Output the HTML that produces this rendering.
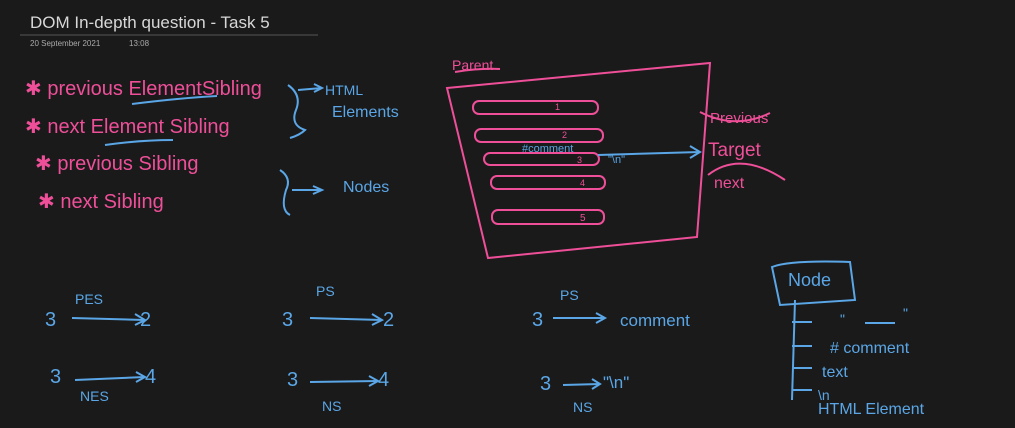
<!DOCTYPE html>
<html><head><meta charset="utf-8"><style>
html,body{margin:0;padding:0;background:#1a1a1a;}
svg{display:block}
text{font-family:"Liberation Sans",sans-serif;}
.p{fill:#ee4f98}
.b{fill:#5aa6e6}
</style></head><body>
<svg width="1015" height="428" viewBox="0 0 1015 428" xmlns="http://www.w3.org/2000/svg">
<rect width="1015" height="428" fill="#1a1a1a"/>
<text x="30" y="28" fill="#d8d8d8" font-size="17">DOM In-depth question - Task 5</text>
<line x1="20" y1="35" x2="318" y2="35" stroke="#555" stroke-width="1"/>
<text x="30" y="46" fill="#aaa" font-size="8">20 September 2021</text>
<text x="129" y="46" fill="#aaa" font-size="8">13:08</text>

<g stroke="#ee4f98" fill="none" stroke-width="2">
<path d="M455 72 Q480 68 500 69"/>
<path d="M447 88 L710 63 L697 237 L488 258 Z"/>
<rect x="473" y="101" width="125" height="13" rx="6"/>
<rect x="475" y="129" width="128" height="13" rx="6"/>
<rect x="484" y="153" width="115" height="12" rx="6"/>
<rect x="491" y="176" width="114" height="13" rx="6"/>
<rect x="492" y="210" width="112" height="14" rx="6"/>
<path d="M700 112 Q735 130 770 113"/>
<path d="M708 175 Q740 150 785 180"/>
</g>
<text x="555" y="110" font-size="9" class="p">1</text>
<text x="562" y="138" font-size="9" class="p">2</text>
<text x="577" y="163" font-size="9" class="p">3</text>
<text x="580" y="186" font-size="9" class="p">4</text>
<text x="580" y="221" font-size="10" class="p">5</text>
<text x="452" y="70" class="p" font-size="14">Parent</text>
<text x="710" y="123" class="p" font-size="15">Previous</text>
<text x="708" y="156" class="p" font-size="19">Target</text>
<text x="714" y="188" class="p" font-size="16">next</text>
<text x="522" y="152" class="b" font-size="11">#comment</text>
<text x="608" y="163" class="b" font-size="11">"\n"</text>
<g stroke="#5aa6e6" fill="none" stroke-width="2">
<line x1="598" y1="155" x2="700" y2="152"/><path d="M690 146 L700 152 L690 158"/>
</g>

<text x="25" y="95" class="p" font-size="20">✱ previous ElementSibling</text>
<text x="25" y="133" class="p" font-size="20">✱ next Element Sibling</text>
<text x="35" y="170" class="p" font-size="20">✱ previous Sibling</text>
<text x="38" y="208" class="p" font-size="20">✱ next Sibling</text>
<g stroke="#5aa6e6" fill="none" stroke-width="2">
<path d="M132 104 Q180 98 217 96"/><path d="M105 145 Q140 140 173 140"/>
<path d="M288 85 Q302 95 296 110 Q290 125 305 130 Q300 135 290 138"/>
<path d="M298 90 L322 88"/><path d="M314 84 L322 88 L314 92"/>
<path d="M280 170 Q292 178 286 190 Q280 210 290 215"/>
<path d="M292 190 L320 190"/><path d="M313 186 L322 190 L313 194"/>
</g>
<text x="325" y="95" class="b" font-size="14">HTML</text>
<text x="332" y="117" class="b" font-size="16">Elements</text>
<text x="343" y="192" class="b" font-size="16">Nodes</text>

<g class="b" font-size="20">
<text x="45" y="326">3</text><text x="140" y="326">2</text><text x="75" y="304" font-size="14">PES</text>
<text x="50" y="383">3</text><text x="145" y="383">4</text><text x="80" y="401" font-size="14">NES</text>
<text x="282" y="326">3</text><text x="383" y="326">2</text><text x="316" y="296" font-size="14">PS</text>
<text x="287" y="386">3</text><text x="378" y="386">4</text><text x="322" y="411" font-size="14">NS</text>
<text x="532" y="326">3</text><text x="620" y="326" font-size="17">comment</text><text x="560" y="300" font-size="14">PS</text>
<text x="540" y="390">3</text><text x="603" y="388" font-size="17">"\n"</text><text x="573" y="412" font-size="14">NS</text>
</g>
<g stroke="#5aa6e6" fill="none" stroke-width="2">
<line x1="72" y1="318" x2="145" y2="320"/><path d="M135 314 L145 320 L135 325"/>
<line x1="75" y1="380" x2="145" y2="377"/><path d="M136 372 L145 377 L136 382"/>
<line x1="310" y1="318" x2="382" y2="320"/><path d="M372 314 L382 320 L372 325"/>
<line x1="310" y1="382" x2="378" y2="381"/><path d="M369 376 L378 381 L369 386"/>
<line x1="553" y1="318" x2="605" y2="318"/><path d="M596 313 L605 318 L596 323"/>
<line x1="563" y1="385" x2="600" y2="384"/><path d="M592 379 L600 384 L592 389"/>
<path d="M772 267 Q790 260 850 262 L855 300 L780 305 Z"/>
<path d="M795 300 L792 400"/>
<path d="M792 322 L812 322"/><path d="M792 346 L812 346"/><path d="M792 368 L812 368"/><path d="M792 390 L812 390"/>
<line x1="865" y1="323" x2="895" y2="323"/>
</g>
<text x="788" y="286" class="b" font-size="18">Node</text>
<text x="840" y="324" class="b" font-size="14">"</text><text x="903" y="318" class="b" font-size="14">"</text>
<text x="830" y="353" class="b" font-size="16"># comment</text>
<text x="822" y="377" class="b" font-size="16">text</text>
<text x="818" y="400" class="b" font-size="14">\n</text>
<text x="818" y="414" class="b" font-size="16">HTML Element</text>
</svg>
</body></html>
